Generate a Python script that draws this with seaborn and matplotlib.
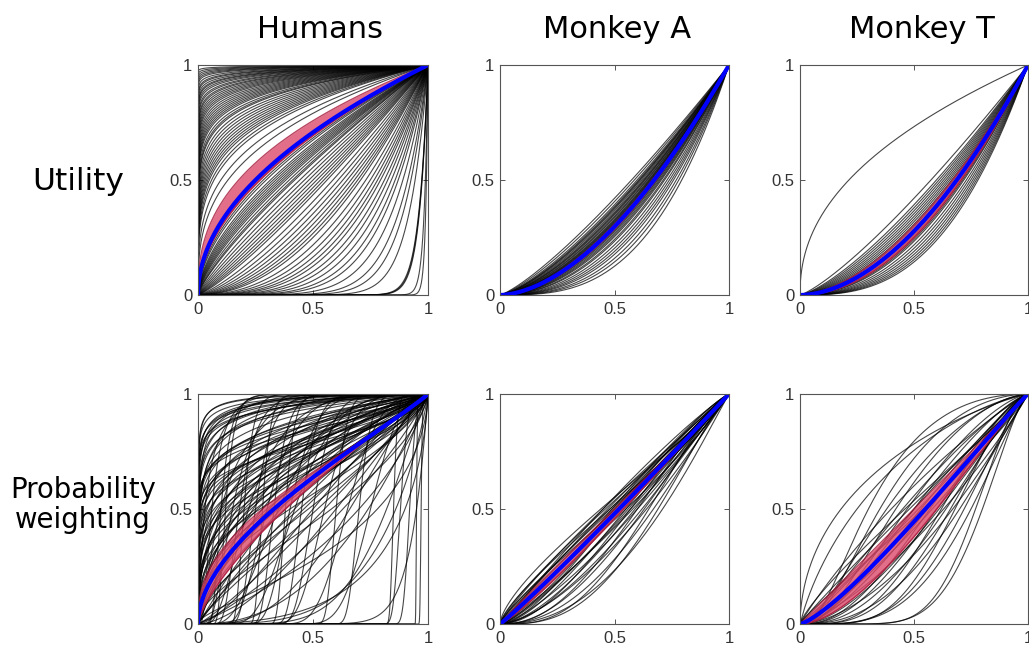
import numpy as np
import pandas as pd
import matplotlib
matplotlib.use("Agg")
import matplotlib.pyplot as plt
import seaborn as sns

# ---------------------------------------------------------------------------
# Fitted parameters per subject / session
# Utility: power function u(x) = x ** rho
# Probability weighting: two-parameter Prelec, given as (gamma, p_mid) where
# p_mid is the probability whose decision weight equals 0.5
# ---------------------------------------------------------------------------
columns = ["Humans", "Monkey A", "Monkey T"]
rows = ["Utility", "Probability\nweighting"]
tick_values = [0, 0.5, 1]
tick_labels = ["0", "0.5", "1"]

humans_util_rho = [
    0.004, 0.006, 0.008, 0.01, 0.012, 0.014, 0.017, 0.02, 0.022, 0.025,
    0.028, 0.03, 0.033, 0.036, 0.04, 0.043, 0.047, 0.05, 0.054, 0.058,
    0.062, 0.066, 0.07, 0.075, 0.08, 0.085, 0.09, 0.095, 0.1, 0.105,
    0.11, 0.118, 0.125, 0.13, 0.14, 0.15, 0.16, 0.17, 0.18, 0.19,
    0.2, 0.21, 0.22, 0.23, 0.245, 0.26, 0.3, 0.34,
    0.5, 0.52, 0.55, 0.57, 0.6, 0.62, 0.64, 0.66, 0.68, 0.7, 0.72, 0.75,
    0.78, 0.8, 0.85, 0.9, 0.95, 1.0, 1.05, 1.1, 1.15, 1.2, 1.3, 1.4, 1.5,
    1.6, 1.7, 1.8, 1.9, 2.0, 2.2, 2.4, 2.6, 2.8, 3.0, 3.3, 3.6, 4.0, 4.5,
    5.0, 6.0, 7.5, 9.0, 12.0, 25.0, 26.0, 27.0, 60.0, 100.0,
]
monkeyA_util_rho = [
    1.25, 1.3, 1.35, 1.38, 1.4, 1.42, 1.45, 1.48, 1.5, 1.52, 1.55, 1.57,
    1.6, 1.62, 1.64, 1.66, 1.68, 1.7, 1.72, 1.74, 1.76, 1.78, 1.8, 1.83,
    1.86, 1.9, 1.94, 1.98, 2.05, 2.1, 2.2, 2.3, 2.4, 2.5, 2.65, 2.8, 3.0,
]
monkeyT_util_rho = [
    0.45, 1.25, 1.35, 1.4, 1.45, 1.5, 1.55, 1.6, 1.65, 1.7, 1.75, 1.8,
    1.85, 1.9, 1.95, 2.0, 2.05, 2.1, 2.2, 2.3, 2.4, 2.5, 2.6, 2.7, 2.8,
]

humans_pw_gamma = [
    # steep start, flattening close to the top
    1.0, 1.2, 1.5, 1.8, 1.1, 1.4, 2.0, 1.3, 1.6, 1.0, 1.25, 1.7, 1.15,
    1.45, 1.9, 1.05, 1.35, 1.55,
    # concave / inverse-S
    0.6, 0.7, 0.8, 0.5, 0.9, 0.7, 1.0, 0.6, 0.8, 0.9, 0.7, 1.1, 0.6, 0.8,
    1.0, 0.75, 0.9, 1.2, 0.65, 0.85, 1.0, 0.7, 1.3, 0.9, 0.8, 1.1, 0.6,
    1.0, 0.85, 1.4, 0.75, 1.2, 0.95, 0.7, 1.1, 0.9, 1.5, 0.8, 1.0, 0.65,
    1.3, 0.9, 1.1, 0.75, 1.0, 0.85, 1.2, 0.95, 0.7, 1.1, 0.9, 1.0, 0.8,
    1.2, 0.9, 1.0, 0.7, 1.1, 0.9, 1.3, 0.8, 1.0, 0.6, 1.2, 0.9, 0.7, 1.0,
    # S-shaped
    3.0, 5.0, 8.0, 2.5, 10.0, 4.0, 6.0, 12.0, 3.0, 7.0, 15.0, 4.0, 9.0,
    2.5, 14.0, 5.0, 3.0, 8.0, 6.0, 4.0, 10.0, 3.0, 7.0, 2.5, 12.0, 5.0,
    4.0, 20.0, 8.0,
]
humans_pw_pmid = [
    0.00001, 0.00002, 0.00003, 0.00005, 0.00008, 0.0001, 0.00015, 0.0002,
    0.0003, 0.0005, 0.0007, 0.001, 0.0015, 0.002, 0.003, 0.004, 0.006,
    0.008,
    0.0005, 0.001, 0.002, 0.003, 0.004, 0.006, 0.008, 0.01, 0.012, 0.015,
    0.02, 0.025, 0.03, 0.035, 0.04, 0.05, 0.055, 0.06, 0.07, 0.08, 0.09,
    0.1, 0.1, 0.11, 0.12, 0.13, 0.14, 0.15, 0.16, 0.17, 0.18, 0.19, 0.2,
    0.21, 0.22, 0.23, 0.24, 0.25, 0.26, 0.27, 0.28, 0.3, 0.31, 0.32, 0.34,
    0.35, 0.36, 0.38, 0.4, 0.42, 0.44, 0.46, 0.48, 0.5, 0.52, 0.55, 0.58,
    0.6, 0.63, 0.66, 0.7, 0.74, 0.78, 0.82, 0.86, 0.9, 0.95,
    0.03, 0.06, 0.1, 0.1, 0.12, 0.15, 0.18, 0.2, 0.22, 0.25, 0.28, 0.3,
    0.33, 0.35, 0.38, 0.4, 0.42, 0.45, 0.5, 0.55, 0.6, 0.65, 0.7, 0.75,
    0.85, 0.88, 0.92, 0.95, 0.97,
]
monkeyA_pw_gamma = [
    0.9, 1.0, 1.1, 0.95, 1.05, 0.9, 1.0, 1.15, 0.95, 1.0, 1.1, 0.9, 1.05,
    1.0, 1.2, 0.95, 1.1, 1.0, 0.9, 1.15, 1.05, 1.0, 1.2, 0.95, 1.1, 1.0,
    1.25, 1.05, 1.15, 1.0, 1.3, 1.1, 1.2, 1.05,
]
monkeyA_pw_pmid = [
    0.44, 0.45, 0.45, 0.46, 0.47, 0.48, 0.48, 0.49, 0.49, 0.5, 0.5, 0.51,
    0.51, 0.52, 0.52, 0.53, 0.53, 0.54, 0.55, 0.55, 0.56, 0.57, 0.57, 0.58,
    0.59, 0.6, 0.6, 0.62, 0.63, 0.64, 0.65, 0.67, 0.69, 0.71,
]
monkeyT_pw_gamma = [
    1.15, 1.3, 2.0, 1.8, 1.5, 1.1, 1.6, 1.2, 0.95, 1.4, 1.0, 1.1, 1.3, 1.0,
    1.2, 0.9, 1.05, 1.15, 1.3, 1.0, 1.25, 1.1, 1.45, 0.95, 1.2, 1.35, 1.0,
    1.5, 1.1, 1.3, 1.2, 1.6, 1.4,
]
monkeyT_pw_pmid = [
    0.18, 0.25, 0.3, 0.35, 0.38, 0.4, 0.42, 0.45, 0.46, 0.47, 0.48, 0.5,
    0.5, 0.52, 0.53, 0.54, 0.55, 0.56, 0.57, 0.58, 0.6, 0.61, 0.62, 0.63,
    0.64, 0.66, 0.67, 0.68, 0.7, 0.72, 0.75, 0.77, 0.8,
]

# Group mean (blue) and confidence band (red) parameters
util_mean_rho = [0.5, 1.75, 1.85]
util_band_rho = [(0.4, 0.53), (1.7, 1.8), (1.72, 2.0)]
pw_mean = [(0.92, 0.33), (1.0, 0.52), (1.05, 0.55)]
pw_band = [((0.85, 0.28), (1.0, 0.38)), ((0.98, 0.5), (1.02, 0.54)),
           ((1.0, 0.5), (1.1, 0.6))]

# ---------------------------------------------------------------------------
grid = np.unique(np.concatenate([
    np.linspace(0.0, 1.0, 801),
    np.logspace(-12, -1, 160),
    1.0 - np.logspace(-5, -1, 120),
]))


def power_curve(rho):
    return grid ** rho


def prelec_curve(gamma, p_mid):
    delta = np.log(2.0) / (-np.log(p_mid)) ** gamma
    with np.errstate(divide="ignore"):
        L = -np.log(grid)
    w = np.exp(-delta * L ** gamma)
    w[grid == 0] = 0.0
    return w


def long_frame(curves):
    return pd.DataFrame({
        "x": np.tile(grid, len(curves)),
        "y": np.concatenate(curves),
        "unit": np.repeat(np.arange(len(curves)), len(grid)),
    })


util_sets = [humans_util_rho, monkeyA_util_rho, monkeyT_util_rho]
pw_sets = [(humans_pw_gamma, humans_pw_pmid),
           (monkeyA_pw_gamma, monkeyA_pw_pmid),
           (monkeyT_pw_gamma, monkeyT_pw_pmid)]

sns.set_theme(style="ticks")
plt.rcParams["font.family"] = ["DejaVu Sans"]

W, H = 1029, 651
fig = plt.figure(figsize=(W / 100, H / 100), dpi=100)

lefts = [198, 500, 800]
tops = [65, 394]
widths = [230, 229, 228]
size_y = 230

spine_col = "#555555"

for r in range(2):
    for c in range(3):
        ax = fig.add_axes([lefts[c] / W, 1 - (tops[r] + size_y) / H,
                           widths[c] / W, size_y / H])
        if r == 0:
            curves = [power_curve(p) for p in util_sets[c]]
            mean_y = power_curve(util_mean_rho[c])
            b1 = power_curve(util_band_rho[c][0])
            b2 = power_curve(util_band_rho[c][1])
        else:
            g, pm = pw_sets[c]
            curves = [prelec_curve(a, b) for a, b in zip(g, pm)]
            mean_y = prelec_curve(*pw_mean[c])
            b1 = prelec_curve(*pw_band[c][0])
            b2 = prelec_curve(*pw_band[c][1])

        df = long_frame(curves)
        sns.lineplot(data=df, x="x", y="y", units="unit", estimator=None,
                     color="black", lw=0.8, alpha=0.72, ax=ax,
                     legend=False)
        lo, hi = np.minimum(b1, b2), np.maximum(b1, b2)
        ax.fill_between(grid, lo, hi, color="#dc4a6c", alpha=0.8,
                        lw=0, zorder=3)
        ax.plot(grid, lo, color="#a8183a", lw=1.0, alpha=0.8, zorder=3)
        ax.plot(grid, hi, color="#a8183a", lw=1.0, alpha=0.8, zorder=3)
        sns.lineplot(x=grid, y=mean_y, color="#0000ff", lw=3.0, ax=ax,
                     zorder=4)

        ax.set_xlim(0, 1)
        ax.set_ylim(0, 1)
        ax.set_xticks(tick_values)
        ax.set_yticks(tick_values)
        ax.set_xticklabels(tick_labels)
        ax.set_yticklabels(tick_labels)
        ax.set_xlabel("")
        ax.set_ylabel("")
        ax.tick_params(direction="in", length=3.5, width=0.7,
                       colors=spine_col, labelcolor="#333333",
                       top=True, right=True, labelsize=12)
        ax.tick_params(axis="x", pad=5)
        ax.tick_params(axis="y", pad=4)
        for lab in ax.get_xticklabels() + ax.get_yticklabels():
            lab.set_fontfamily("Liberation Sans")
        for s in ax.spines.values():
            s.set_color(spine_col)
            s.set_linewidth(0.8)
            s.set_zorder(5)

title_x = [320, 617, 922]
for name, tx in zip(columns, title_x):
    fig.text(tx / W, 1 - 30 / H, name, ha="center", va="center",
             fontsize=22, color="black")

fig.text(78 / W, 1 - 182 / H, rows[0], ha="center", va="center",
         fontsize=22.5, color="black")
fig.text(83 / W, 1 - 505 / H, rows[1], ha="center", va="center",
         fontsize=19.8, color="black", linespacing=1.05)

fig.savefig("out.png", dpi=100, facecolor="white")
